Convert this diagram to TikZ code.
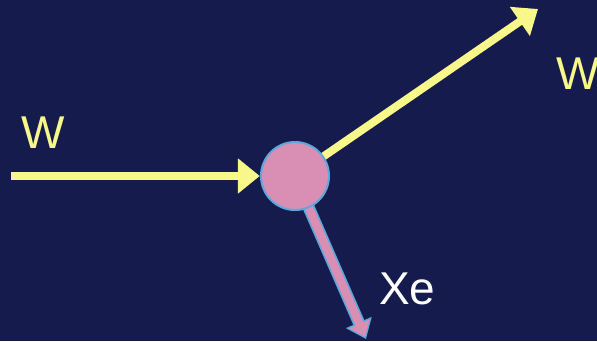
\documentclass[tikz,border=0pt]{standalone}
\usepackage{fontspec}
\setmainfont{Liberation Sans}
\usetikzlibrary{arrows.meta}
\definecolor{bg}{HTML}{161B4D}
\definecolor{yel}{HTML}{F7F78A}
\definecolor{pnk}{HTML}{D98FB4}
\definecolor{blu}{HTML}{5EA7DC}
\tikzset{
  yarrow/.style={draw=yel, line width=8pt, -{Triangle[width=34pt,length=22pt]}},
  lbl/.style={inner sep=0pt, anchor=base west, font=\fontsize{46}{50}\selectfont},
}
\begin{document}
\begin{tikzpicture}[x=1pt,y=-1pt]
\fill[bg] (0,0) rectangle (597,341);
\useasboundingbox (0,0) rectangle (597,341);
\node[circle, minimum size=70pt, inner sep=0pt] (c) at (295,176) {};
\coordinate (lstart) at (11,176);
\coordinate (urtip) at (538,9);
\coordinate (xetip) at (366,339);
\draw[yarrow] (c.center) -- (urtip);
\draw[draw=blu, line width=12pt, -{Triangle[width=27pt,length=18pt]}] (c.center) -- (xetip);
\draw[draw=pnk, line width=8.5pt, shorten >=2.4pt, -{Triangle[width=21pt,length=14pt]}] (c.center) -- (xetip);
\draw[fill=pnk, draw=blu, line width=2pt] (c.center) circle (34pt);
\draw[yarrow] (lstart) -- (c.west);
\node[lbl, text=yel] (w1) at (21,148) {W};
\node[lbl, text=yel] (w2) at (556,89) {W};
\node[lbl, text=white] (xe) at (379,304) {Xe};
\end{tikzpicture}
\end{document}
